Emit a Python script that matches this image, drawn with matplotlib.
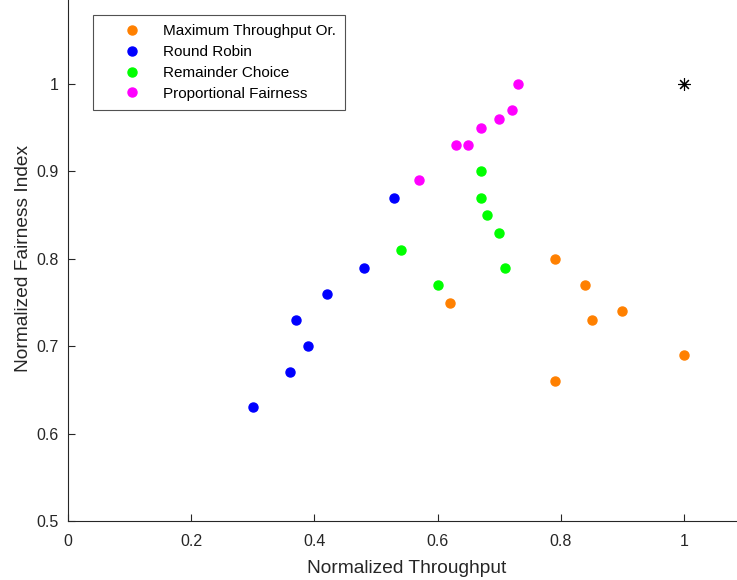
import matplotlib
matplotlib.use("Agg")
import matplotlib.pyplot as plt

plt.rcParams['font.family'] = ['Liberation Sans', 'DejaVu Sans']

series_names = ["Maximum Throughput Or.", "Round Robin", "Remainder Choice", "Proportional Fairness"]
colors = ["#FF8000", "#0000FF", "#00FF00", "#FF00FF"]

mto_x = [0.62, 0.79, 0.84, 0.85, 0.90, 1.00, 0.79]
mto_y = [0.75, 0.80, 0.77, 0.73, 0.74, 0.69, 0.66]
rr_x = [0.30, 0.36, 0.39, 0.37, 0.42, 0.48, 0.53]
rr_y = [0.63, 0.67, 0.70, 0.73, 0.76, 0.79, 0.87]
rc_x = [0.54, 0.60, 0.67, 0.67, 0.68, 0.70, 0.71]
rc_y = [0.81, 0.77, 0.90, 0.87, 0.85, 0.83, 0.79]
pf_x = [0.57, 0.63, 0.65, 0.67, 0.70, 0.72, 0.73]
pf_y = [0.89, 0.93, 0.93, 0.95, 0.96, 0.97, 1.00]
ideal_x = [1.0]
ideal_y = [1.0]

xs = [mto_x, rr_x, rc_x, pf_x]
ys = [mto_y, rr_y, rc_y, pf_y]

fig = plt.figure(figsize=(7.37, 5.80), dpi=100)
ax = fig.add_axes([68/737, 59/580, 677.6/737, 524.4/580])

for x, y, c, n in zip(xs, ys, colors, series_names):
    ax.plot(x, y, linestyle='none', marker='o', markersize=6.5, color=c, label=n, clip_on=False)
ax.plot(ideal_x, ideal_y, linestyle='none', marker=(8, 2, 0), markersize=9, color='black', markeredgewidth=0.8)

ax.set_xlim(0, 1.1)
ax.set_ylim(0.5, 1.1)
ax.set_xticks([0, 0.2, 0.4, 0.6, 0.8, 1.0])
ax.set_xticklabels(["0", "0.2", "0.4", "0.6", "0.8", "1"])
ax.set_yticks([0.5, 0.6, 0.7, 0.8, 0.9, 1.0])
ax.set_yticklabels(["0.5", "0.6", "0.7", "0.8", "0.9", "1"])
ax.tick_params(direction='in', length=5, labelsize=11.5, colors='#262626', labelcolor='#262626')
ax.tick_params(axis='x', pad=9)
ax.tick_params(axis='y', pad=7)
for s in ['top', 'right']:
    ax.spines[s].set_visible(False)
for s in ['left', 'bottom']:
    ax.spines[s].set_color('#262626')
ax.set_xlabel("Normalized Throughput", fontsize=13.8, color='#262626', labelpad=8)
ax.set_ylabel("Normalized Fairness Index", fontsize=13.8, color='#262626', labelpad=3)

fs = 11
leg = ax.legend(loc='upper left', bbox_to_anchor=(93/737, 1 - 15/580), bbox_transform=fig.transFigure,
                prop={'size': fs}, frameon=True, fancybox=False, edgecolor='#262626',
                handlelength=3.85, handletextpad=0.15, borderpad=0.6, labelspacing=0.45, borderaxespad=0)
leg.get_frame().set_linewidth(0.8)

fig.savefig("out.png", dpi=100)
